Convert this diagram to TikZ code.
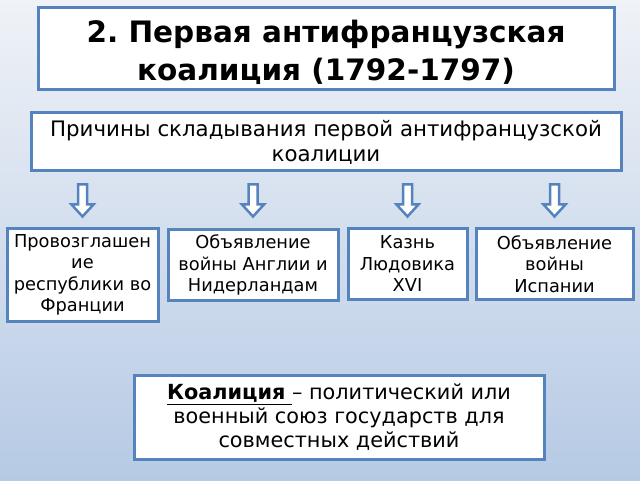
\documentclass[tikz,border=0pt]{standalone}
\usepackage{fontspec}
\setmainfont{DejaVu Sans}
\usetikzlibrary{calc}
\definecolor{bordblue}{HTML}{5583BE}
\definecolor{bgtop}{HTML}{EFF2F7}
\definecolor{bgbot}{HTML}{B6CAE4}
\frenchspacing
\tikzset{
  box/.style={draw=bordblue, line width=3pt, fill=white, align=center, inner sep=1pt, text=black},
  arrowline/.style={draw=bordblue, line width=2.5pt, fill=white, line join=miter},
  blockarrow/.pic={\path[arrowline] (-4.5,0) -- (4.5,0) -- (4.5,-20) -- (11,-20) -- (0,-32) -- (-11,-20) -- (-4.5,-20) -- cycle;}
}
\begin{document}
\begin{tikzpicture}[x=1pt,y=1pt]
\shade[top color=bgtop, bottom color=bgbot] (0,0) rectangle (640,480);
\useasboundingbox (0,0) rectangle (640,480);
\node[box, minimum width=576pt, minimum height=82pt] (title) at (326,431) {};
\node[align=center, font=\fontsize{29.5}{38}\selectfont\bfseries, inner sep=0pt] (titletext) at (326,428) {2. Первая антифранцузская\\коалиция (1792-1797)};
\node[box, minimum width=590pt, minimum height=58pt, font=\fontsize{21.3}{25}\selectfont] (reasons) at (326,338) {Причины складывания первой антифранцузской\\коалиции};
\node[box, minimum width=151pt, minimum height=92pt, font=\fontsize{17.8}{21.5}\selectfont] (b1) at (82.5,205) {Провозглашен\\ие\\республики во\\Франции};
\node[box, minimum width=170pt, minimum height=71pt, font=\fontsize{17.8}{21.5}\selectfont] (b2) at (253,215) {Объявление\\войны Англии и\\Нидерландам};
\node[box, minimum width=119pt, minimum height=70pt, font=\fontsize{17.8}{21.5}\selectfont] (b3) at (407.5,216) {Казнь\\Людовика\\XVI};
\node[box, minimum width=157pt, minimum height=70pt, font=\fontsize{17.8}{21.5}\selectfont] (b4) at (554.5,216) {Объявление\\войны\\Испании};
\foreach \b in {b1,b2,b3,b4}{
  \pic at ($(\b.north |- reasons.south)+(0,-12)$) {blockarrow};
}
\node[box, minimum width=410pt, minimum height=84pt, font=\fontsize{20.8}{24}\selectfont] (def) at (339,63) {\underline{\textbf{Коалиция}~}– политический или\\военный союз государств для\\совместных действий};
\end{tikzpicture}
\end{document}
